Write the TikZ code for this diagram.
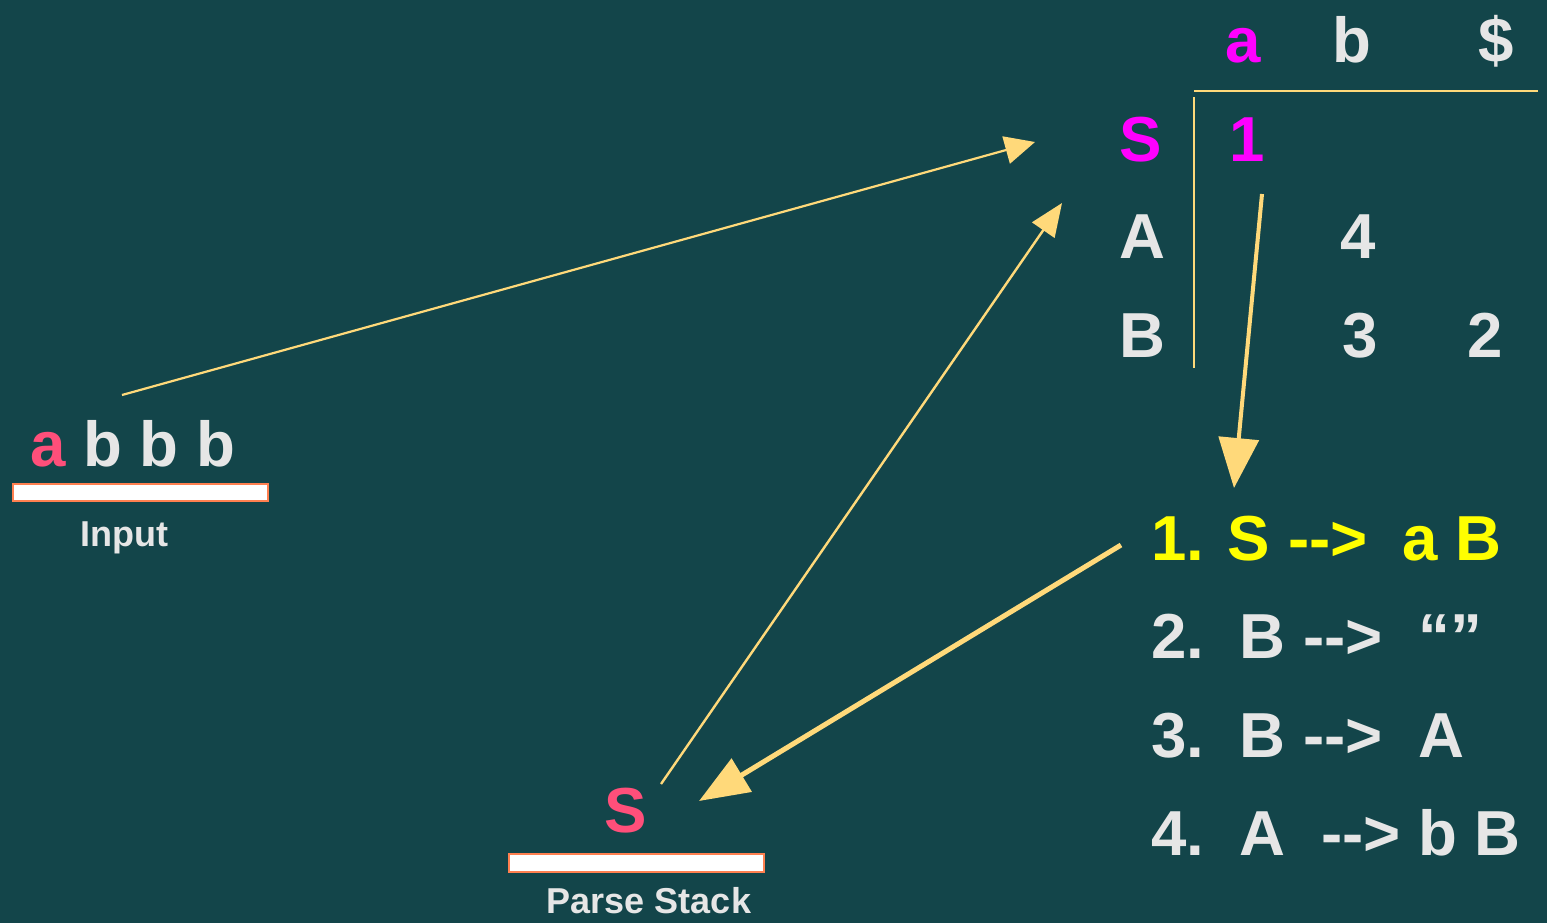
\documentclass[tikz,border=0pt]{standalone}
\usepackage{fontspec}
\setmainfont{Liberation Sans}[Ligatures=TeXOff]
\usetikzlibrary{arrows.meta}
\definecolor{bg}{RGB}{19,69,74}
\definecolor{txt}{RGB}{230,230,230}
\definecolor{mag}{RGB}{255,0,255}
\definecolor{yel}{RGB}{255,255,0}
\definecolor{pinkred}{RGB}{255,79,122}
\definecolor{boxedge}{RGB}{255,128,80}
\definecolor{arr}{RGB}{255,217,122}
\tikzset{
  big/.style={inner sep=0pt, anchor=base, font=\fontsize{31.8}{38}\selectfont\bfseries, text=txt},
  rule/.style={big, anchor=base west},
  small/.style={inner sep=0pt, anchor=base, font=\fontsize{18}{22}\selectfont\bfseries, text=txt},
  slot/.style={draw=boxedge, fill=white, line width=1pt},
  grid/.style={draw=arr, line width=1pt},
  thinarr/.style={draw=arr, line width=1.1pt, -{Triangle[length=15pt,width=14pt]}},
  midarr/.style={draw=arr, line width=1.2pt, -{Triangle[length=16.5pt,width=13.5pt]}},
  thickarr/.style={draw=arr, line width=2pt, -{Triangle[length=25pt,width=20pt]}},
  heavyarr/.style={draw=arr, line width=2.5pt, -{Triangle[length=25pt,width=19pt]}}
}
\begin{document}
\begin{tikzpicture}[x=0.5pt,y=-0.5pt]
\useasboundingbox (0,0) rectangle (1547,923);
\fill[bg] (0,0) rectangle (1547,923);

% table
\node[big, text=mag] (ha) at (1243,62) {a};
\node[big] (hb) at (1352,62) {b};
\node[big] (hd) at (1496,62) {\$};
\node[big, text=mag] (rS) at (1141,161) {S};
\node[big, text=mag] (c1) at (1247,161) {1};
\node[big] (rA) at (1142,258) {A};
\node[big] (c4) at (1358,258) {4};
\node[big] (rB) at (1142,357) {B};
\node[big] (c3) at (1360,357) {3};
\node[big] (c2) at (1485,357) {2};
\coordinate (vt) at (1194,97);
\coordinate (vb) at (1194,368);
\coordinate (hl) at (1194,91);
\coordinate (hr) at (1538,91);
\draw[grid] (vt) -- (vb);
\draw[grid] (hl) -- (hr);

% rules
\node[rule, text=yel] (r1) at (1151,560) {1. S -->\ \ a B};
\node[rule] (r2) at (1151,658) {2.\ \ B -->\ \ “”};
\node[rule] (r3) at (1151,757) {3.\ \ B -->\ \ A};
\node[rule] (r4) at (1151,855) {4.\ \ A\ \ --> b B};

% input
\node[big, anchor=base west] (inp) at (30,466) {\textcolor{pinkred}{a} b b b};
\node[slot, inner sep=0pt, minimum width=127.5pt, minimum height=8.5pt, anchor=north west] (inbox) at (12,483) {};
\node[small] (inlbl) at (124,546) {Input};

% parse stack
\node[big, text=pinkred] (stS) at (626,832) {S};
\node[slot, inner sep=0pt, minimum width=127.5pt, minimum height=9pt, anchor=north west] (stbox) at (508,853) {};
\node[small] (stlbl) at (649,913) {Parse Stack};

% arrows
\coordinate (a1s) at (122,395);
\coordinate (a1e) at (1035,142);
\coordinate (a2s) at (661,784);
\coordinate (a2e) at (1062,203);
\coordinate (a3s) at (1262,194);
\coordinate (a3e) at (1234,488);
\coordinate (a4s) at (1121,545);
\coordinate (a4e) at (699,801);
\draw[thinarr] (a1s) -- (a1e);
\draw[midarr] (a2s) -- (a2e);
\draw[thickarr] (a3s) -- (a3e);
\draw[heavyarr] (a4s) -- (a4e);
\end{tikzpicture}
\end{document}
